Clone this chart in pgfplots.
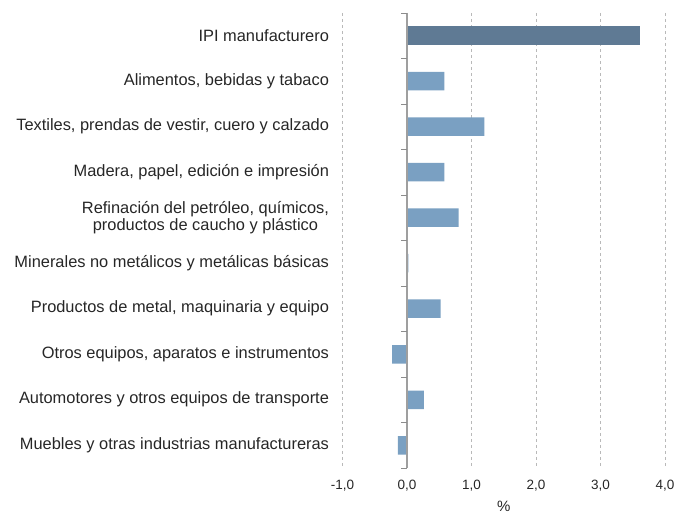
\documentclass[border=0pt]{standalone}
\usepackage{pgfplots}
\pgfplotsset{compat=1.18}
\usepackage{fontspec}
\setmainfont{Liberation Sans}
\definecolor{ipibar}{HTML}{5F7A94}
\definecolor{secbar}{HTML}{7AA0C2}
\definecolor{txt}{HTML}{262626}
\begin{document}
\begin{tikzpicture}
\begin{axis}[
    at={(0,0)}, anchor=south west,
    scale only axis,
    width=322.5pt, height=455pt,
    xbar, bar width=18.5pt,
    xmin=-1, xmax=4,
    ymin=-0.5, ymax=9.5,
    y dir=reverse,
    xtick={-1,0,1,2,3,4},
    ytick={0,1,2,3,4,5,6,7,8,9},
    yticklabels={
        IPI manufacturero,
        {Alimentos, bebidas y tabaco},
        {Textiles, prendas de vestir, cuero y calzado},
        {Madera, papel, edición e impresión},
        {Refinación del petróleo, químicos,\\productos de caucho y plástico},
        Minerales no metálicos y metálicas básicas,
        {Productos de metal, maquinaria y equipo},
        {Otros equipos, aparatos e instrumentos},
        Automotores y otros equipos de transporte,
        Muebles y otras industrias manufactureras},
    yticklabel style={align=center, font=\fontsize{16.4}{16.6}\selectfont, text=txt, xshift=-10pt},
    xticklabel style={font=\fontsize{13.5}{15}\selectfont, text=txt, yshift=-9pt},
    /pgf/number format/.cd, use comma, fixed, fixed zerofill, precision=1, assume math mode=true,
    /pgfplots/.cd,
    xlabel={\%}, xlabel style={font=\fontsize{15}{16}\selectfont, text=txt, yshift=-3pt},
    major tick length=0pt,
    axis line style={draw=none},
    xmajorgrids, grid style={dashed, gray!55, line width=0.6pt},
    clip=false,
]
\addplot[fill=ipibar, draw=none, bar shift=0pt] coordinates {(3.61,0)};
\addplot[fill=secbar, draw=none, bar shift=0pt] coordinates {
    (0.58,1) (1.20,2) (0.58,3) (0.80,4) (0.02,5)
    (0.52,6) (-0.23,7) (0.26,8) (-0.14,9)};
\draw[gray!75, line width=1.3pt] (axis cs:0,-0.5) -- (axis cs:0,9.5);
\pgfplotsinvokeforeach{-0.5,0.5,...,9.5}{
    \draw[gray!90, line width=0.8pt] (axis cs:0,#1) -- ++(-6pt,0pt);
}
\end{axis}
\path[use as bounding box] (-342.5pt,-48pt) rectangle (346.5pt,468pt);
\end{tikzpicture}
\end{document}
